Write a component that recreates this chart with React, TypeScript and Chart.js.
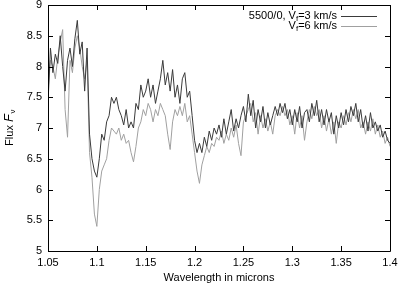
import React, { useEffect, useRef } from "react";
import { Chart, registerables } from "chart.js";

Chart.register(...registerables);

const xStart = 1.05;
const xStep = 0.0025;

const fluxV3: number[] = [
  7.4, 8.3, 7.9, 8.2, 8.05, 8.5, 8.0, 7.6, 8.1, 8.3,
  8.0, 8.45, 8.75, 8.2, 8.4, 7.6, 8.3, 6.9, 6.5, 6.3,
  6.2, 6.5, 6.9, 6.8, 7.1, 7.2, 7.5, 7.4, 7.5, 7.3,
  7.2, 7.05, 7.3, 7.0, 7.1, 7.0, 7.4, 7.3, 7.7, 7.5,
  7.6, 7.8, 7.5, 7.7, 7.4, 7.6, 7.8, 8.1, 7.7, 7.9,
  7.6, 7.95, 7.5, 7.7, 7.4, 7.8, 7.9, 7.5, 7.6, 7.2,
  6.8, 6.6, 6.75, 6.6, 6.85, 6.7, 6.95, 6.8, 7.0, 6.9,
  7.05, 6.85, 7.15, 6.9, 7.1, 7.3, 6.95, 7.15, 7.0, 7.2,
  7.35, 7.1, 7.55, 7.2, 7.45, 7.0, 7.3, 7.1, 7.35, 7.0,
  7.25, 7.05, 7.2, 7.35, 7.2, 7.4, 7.25, 7.4, 7.15, 7.3,
  7.05, 7.3, 7.1, 7.35, 7.0, 7.25, 7.3, 7.1, 7.4, 7.2,
  7.45, 7.1, 7.3, 7.05, 7.3, 7.1, 7.25, 6.9, 7.2, 7.0,
  7.25, 7.05, 7.3, 7.1, 7.35, 7.2, 7.4, 7.1, 7.3, 7.0,
  7.2, 6.95, 7.25, 7.0, 7.1, 6.95, 7.05, 6.85, 6.95, 6.8,
  6.75,
];

const fluxV6: number[] = [
  7.6, 8.1, 8.0, 7.8, 8.15, 8.4, 8.6, 7.3, 6.85, 8.1,
  7.9, 8.3, 8.5, 8.3, 8.0, 7.8, 8.1, 6.6, 6.2, 5.6,
  5.4, 6.0, 6.3, 6.4, 6.5, 6.8, 7.0, 6.95, 6.9, 7.0,
  6.8, 6.9, 6.75, 6.8, 6.6, 6.45, 6.7, 7.0, 7.1, 7.3,
  7.2, 7.4, 7.3, 7.1, 7.3, 7.2, 7.4, 7.3, 7.2, 6.9,
  6.65, 7.1, 7.3, 7.2, 7.35, 7.2, 7.4, 7.1, 7.2, 6.9,
  6.6, 6.3, 6.1, 6.4, 6.55, 6.7, 6.6, 6.75, 6.7, 6.85,
  6.8, 6.95, 6.75, 6.9, 6.8, 7.0, 6.85, 7.05, 6.75, 6.55,
  7.1, 7.2, 7.3, 7.4, 7.1, 7.25, 6.9, 7.2, 7.0, 7.15,
  6.95, 7.1, 6.9, 7.2, 7.3, 7.2, 7.35, 7.2, 7.3, 7.05,
  7.2, 6.9, 7.25, 7.0, 7.2, 6.8, 7.1, 7.3, 7.15, 7.35,
  7.2, 7.3, 7.0, 7.2, 6.95, 7.15, 6.9, 7.1, 6.75, 7.1,
  7.0, 7.2, 7.05, 7.25, 7.1, 7.3, 7.15, 7.3, 7.0, 7.1,
  6.9, 7.1, 6.95, 7.15, 6.9, 7.05, 6.85, 6.95, 6.75, 6.85,
  6.7,
];

const legendLabels = ["5500/0, V|f|=3 km/s", "V|f|=6 km/s"];
const seriesColors = ["#3a3a3a", "#a0a0a0"];
const xTitle = "Wavelength in microns";

const FONT = "'Liberation Sans', Arial, sans-serif";

function drawRich(ctx: CanvasRenderingContext2D, text: string, xRight: number, y: number) {
  const parts = text.split("|");
  const fonts = parts.map((_, i) => (i % 2 === 1 ? `8px ${FONT}` : `11px ${FONT}`));
  let total = 0;
  const widths = parts.map((p, i) => {
    ctx.font = fonts[i];
    const w = ctx.measureText(p).width;
    total += w;
    return w;
  });
  let x = xRight - total;
  ctx.textAlign = "left";
  ctx.textBaseline = "middle";
  parts.forEach((p, i) => {
    ctx.font = fonts[i];
    ctx.fillText(p, x, y + (i % 2 === 1 ? 3 : 0));
    x += widths[i];
  });
}

const framePlugin = {
  id: "frame",
  afterDraw(chart: any) {
    const ctx: CanvasRenderingContext2D = chart.ctx;
    const { left, right, top, bottom } = chart.chartArea;
    const xs = chart.scales.x;
    const ys = chart.scales.y;
    ctx.save();
    ctx.strokeStyle = "#000";
    ctx.lineWidth = 1;
    ctx.beginPath();
    ctx.rect(Math.round(left) + 0.5, Math.round(top) + 0.5, Math.round(right - left), Math.round(bottom - top));
    ctx.stroke();
    const tl = 5;
    ctx.beginPath();
    xs.ticks.forEach((t: any) => {
      const px = Math.round(xs.getPixelForValue(t.value)) + 0.5;
      ctx.moveTo(px, bottom);
      ctx.lineTo(px, bottom - tl);
      ctx.moveTo(px, top);
      ctx.lineTo(px, top + tl);
    });
    ys.ticks.forEach((t: any) => {
      const py = Math.round(ys.getPixelForValue(t.value)) + 0.5;
      ctx.moveTo(left, py);
      ctx.lineTo(left + tl, py);
      ctx.moveTo(right, py);
      ctx.lineTo(right - tl, py);
    });
    ctx.stroke();

    // legend
    ctx.fillStyle = "#000";
    const rows = [16, 26];
    legendLabels.forEach((lab, i) => {
      drawRich(ctx, lab, 337, rows[i]);
      ctx.strokeStyle = seriesColors[i];
      ctx.beginPath();
      ctx.moveTo(341, rows[i] + 0.5);
      ctx.lineTo(377, rows[i] + 0.5);
      ctx.stroke();
    });

    // x title
    ctx.fillStyle = "#000";
    ctx.font = `11px ${FONT}`;
    ctx.textAlign = "center";
    ctx.textBaseline = "middle";
    ctx.fillText(xTitle, (left + right) / 2, 278);

    // y title: "Flux F_nu"
    ctx.translate(10, (top + bottom) / 2);
    ctx.rotate(-Math.PI / 2);
    const p1 = "Flux ";
    const p2 = "F";
    const p3 = "\u03bd";
    ctx.font = `11px ${FONT}`;
    const w1 = ctx.measureText(p1).width;
    ctx.font = `italic 13px ${FONT}`;
    const w2 = ctx.measureText(p2).width;
    ctx.font = `8px ${FONT}`;
    const w3 = ctx.measureText(p3).width;
    let x0 = -(w1 + w2 + w3) / 2;
    ctx.textAlign = "left";
    ctx.font = `11px ${FONT}`;
    ctx.fillText(p1, x0, 0);
    x0 += w1;
    ctx.font = `italic 13px ${FONT}`;
    ctx.fillText(p2, x0, -0.5);
    x0 += w2 + 0.5;
    ctx.font = `8px ${FONT}`;
    ctx.fillText(p3, x0, 3);
    ctx.restore();
  },
};

export default function App() {
  const ref = useRef<HTMLCanvasElement | null>(null);
  useEffect(() => {
    if (!ref.current) return;
    const mk = (arr: number[]) => arr.map((v, i) => ({ x: xStart + i * xStep, y: v }));
    const chart = new Chart(ref.current, {
      type: "line",
      data: {
        datasets: [
          {
            data: mk(fluxV3),
            borderColor: seriesColors[0],
            borderWidth: 1,
            pointRadius: 0,
            tension: 0,
          },
          {
            data: mk(fluxV6),
            borderColor: seriesColors[1],
            borderWidth: 1,
            pointRadius: 0,
            tension: 0,
          },
        ],
      },
      options: {
        animation: false,
        responsive: false,
        devicePixelRatio: 1,
        layout: { padding: { left: 0, right: 8, top: 5, bottom: 0 } },
        plugins: { legend: { display: false }, tooltip: { enabled: false } },
        scales: {
          x: {
            type: "linear",
            min: 1.05,
            max: 1.4,
            afterFit: (s: any) => {
              s.height = 36;
              s.paddingLeft = 0;
              s.paddingRight = 0;
            },
            afterBuildTicks: (s: any) => {
              const t = [];
              for (let k = 0; k <= 7; k++) t.push({ value: 1.05 + k * 0.05 });
              s.ticks = t;
            },
            ticks: {
              color: "#000",
              font: { family: FONT, size: 11 },
              padding: 5,
              maxRotation: 0,
              callback: (v: any) => parseFloat(Number(v).toFixed(2)).toString(),
            },
            grid: { display: false, drawTicks: false },
            border: { display: false },
          },
          y: {
            min: 5,
            max: 9,
            afterFit: (s: any) => {
              s.width = 48;
              s.paddingTop = 0;
              s.paddingBottom = 0;
            },
            ticks: {
              stepSize: 0.5,
              color: "#000",
              font: { family: FONT, size: 11 },
              padding: 6,
              callback: (v: any) => parseFloat(Number(v).toFixed(1)).toString(),
            },
            grid: { display: false, drawTicks: false },
            border: { display: false },
          },
        },
      },
      plugins: [framePlugin],
    });
    return () => chart.destroy();
  }, []);
  return (
    <div style={{ position: "fixed", left: 0, top: 0, width: 398, height: 287, background: "#fff" }}>
      <canvas ref={ref} width={398} height={287} style={{ width: 398, height: 287 }} />
    </div>
  );
}
